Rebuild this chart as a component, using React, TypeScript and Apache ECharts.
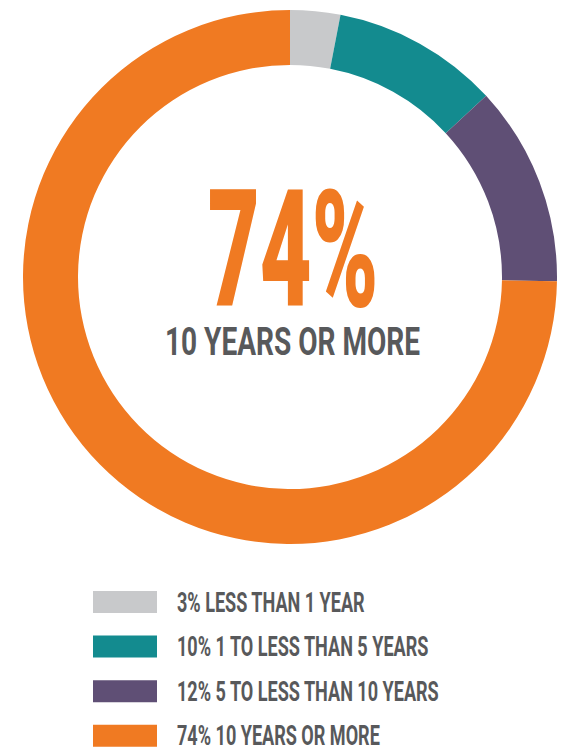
import React, { useEffect, useRef } from "react";
import * as echarts from "echarts";

const categories = [
  "LESS THAN 1 YEAR",
  "1 TO LESS THAN 5 YEARS",
  "5 TO LESS THAN 10 YEARS",
  "10 YEARS OR MORE",
];
const values = [3, 10, 12, 74];
const colors = ["#c8c9cb", "#138b8f", "#5f4f75", "#f07a22"];
const headline = "74%";
const subline = "10 YEARS OR MORE";

const TEXT_GRAY = "#58595b";
const FONT = "Roboto";

export default function App() {
  const ref = useRef<HTMLDivElement>(null);
  useEffect(() => {
    if (!ref.current) return;
    const chart = echarts.init(ref.current, undefined, { renderer: "svg" });
    const legendItems: any[] = [];
    categories.forEach((c, i) => {
      const cy = 602 + i * 44.6;
      legendItems.push({
        type: "rect",
        shape: { x: 93, y: cy - 11, width: 64, height: 22 },
        style: { fill: colors[i] },
        silent: true,
      });
      legendItems.push({
        type: "text",
        x: 177,
        y: cy,
        scaleX: 0.645,
        style: {
          text: `${values[i]}% ${c}`,
          fill: TEXT_GRAY,
          font: `bold 28px ${FONT}`,
          textAlign: "left",
          textVerticalAlign: "middle",
        },
        silent: true,
      });
    });
    chart.setOption({
      animation: false,
      series: [
        {
          type: "pie",
          center: [290, 277],
          radius: [212, 267],
          startAngle: 90,
          clockwise: true,
          label: { show: false },
          labelLine: { show: false },
          emphasis: { disabled: true },
          silent: true,
          itemStyle: { borderWidth: 0 },
          data: categories.map((c, i) => ({
            name: c,
            value: values[i],
            itemStyle: { color: colors[i] },
          })),
        },
      ],
      graphic: [
        {
          type: "text",
          x: 293,
          y: 250,
          scaleX: 0.55,
          style: {
            text: headline,
            fill: colors[3],
            font: `900 163px ${FONT}`,
            textAlign: "center",
            textVerticalAlign: "middle",
          },
          silent: true,
        },
        {
          type: "text",
          x: 292.5,
          y: 341.5,
          scaleX: 0.738,
          style: {
            text: subline,
            fill: TEXT_GRAY,
            font: `bold 38px ${FONT}`,
            textAlign: "center",
            textVerticalAlign: "middle",
          },
          silent: true,
        },
        ...legendItems,
      ],
    });
    return () => chart.dispose();
  }, []);
  return (
    <div
      ref={ref}
      style={{ position: "fixed", left: 0, top: 0, width: 562, height: 748, background: "#fff" }}
    />
  );
}
